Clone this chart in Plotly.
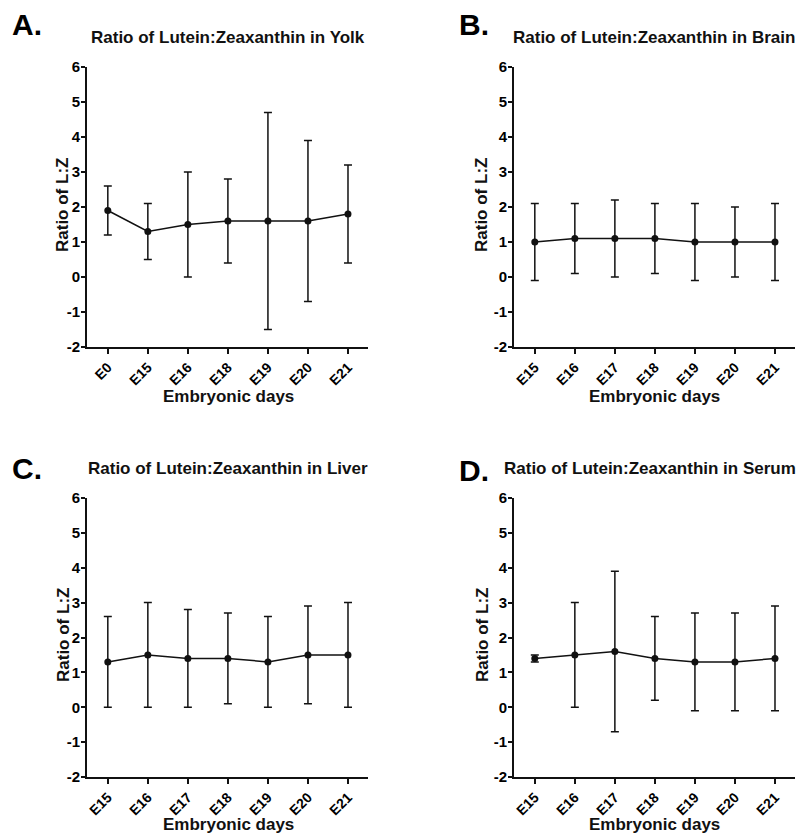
import plotly.graph_objects as go

W, H = 803, 836

yolk_days = ["E0", "E15", "E16", "E18", "E19", "E20", "E21"]
yolk_mean = [1.9, 1.3, 1.5, 1.6, 1.6, 1.6, 1.8]
yolk_low = [1.2, 0.5, 0.0, 0.4, -1.5, -0.7, 0.4]
yolk_high = [2.6, 2.1, 3.0, 2.8, 4.7, 3.9, 3.2]

brain_days = ["E15", "E16", "E17", "E18", "E19", "E20", "E21"]
brain_mean = [1.0, 1.1, 1.1, 1.1, 1.0, 1.0, 1.0]
brain_low = [-0.1, 0.1, 0.0, 0.1, -0.1, 0.0, -0.1]
brain_high = [2.1, 2.1, 2.2, 2.1, 2.1, 2.0, 2.1]

liver_days = ["E15", "E16", "E17", "E18", "E19", "E20", "E21"]
liver_mean = [1.3, 1.5, 1.4, 1.4, 1.3, 1.5, 1.5]
liver_low = [0.0, 0.0, 0.0, 0.1, 0.0, 0.1, 0.0]
liver_high = [2.6, 3.0, 2.8, 2.7, 2.6, 2.9, 3.0]

serum_days = ["E15", "E16", "E17", "E18", "E19", "E20", "E21"]
serum_mean = [1.4, 1.5, 1.6, 1.4, 1.3, 1.3, 1.4]
serum_low = [1.3, 0.0, -0.7, 0.2, -0.1, -0.1, -0.1]
serum_high = [1.5, 3.0, 3.9, 2.6, 2.7, 2.7, 2.9]

titles = ["Ratio of Lutein:Zeaxanthin in Yolk", "Ratio of Lutein:Zeaxanthin in Brain",
          "Ratio of Lutein:Zeaxanthin in Liver", "Ratio of Lutein:Zeaxanthin in Serum"]
letters = ["A.", "B.", "C.", "D."]
y_title = "Ratio of L:Z"
x_title = "Embryonic days"
y_ticks = [-2, -1, 0, 1, 2, 3, 4, 5, 6]
y_ticktext = ["-2", "-1", "0", "1", "2", "3", "4", "5", "6"]

panels = [
    (yolk_days, yolk_mean, yolk_low, yolk_high),
    (brain_days, brain_mean, brain_low, brain_high),
    (liver_days, liver_mean, liver_low, liver_high),
    (serum_days, serum_mean, serum_low, serum_high),
]

# pixel geometry of each plot area: (x0, x1, ytop, ybottom)
geom = [(87, 368, 67, 347), (514, 795, 67, 347), (87, 368, 498, 777), (514, 795, 498, 777)]
title_pos = [(228, 38), (654, 38), (228, 468), (650, 468)]
letter_pos = [(27, 25), (474, 25), (27, 469), (474, 470)]
ytitle_pos = [(63, 205), (482, 205), (63, 635), (482, 635)]
xtitle_pos = [(228, 397), (654, 397), (228, 824), (654, 824)]

INK = "#111111"
FONT = "Liberation Sans"

fig = go.Figure()
layout = dict(width=W, height=H, margin=dict(l=0, r=0, t=0, b=0, autoexpand=False),
              paper_bgcolor="white", plot_bgcolor="white", showlegend=False,
              font=dict(family=FONT, color=INK))
annotations = []

def px(x):
    return x / W

def py(y):
    return 1 - y / H

def bold(s):
    return f"<b>{s}</b>"

XTICK_SIZE = 14
YTICK_SIZE = 15

for i, (days, mean, low, high) in enumerate(panels):
    n = i + 1
    xa = "x" if n == 1 else f"x{n}"
    ya = "y" if n == 1 else f"y{n}"
    plus = [h - m for h, m in zip(high, mean)]
    minus = [m - l for m, l in zip(mean, low)]
    fig.add_trace(go.Scatter(
        x=days, y=mean, mode="lines+markers", xaxis=xa, yaxis=ya,
        line=dict(color=INK, width=1.5),
        marker=dict(color=INK, size=7, symbol="circle"),
        error_y=dict(type="data", symmetric=False, array=plus, arrayminus=minus,
                     color=INK, thickness=1.5, width=4),
    ))
    x0, x1, yt, yb = geom[i]
    xkey = "xaxis" if n == 1 else f"xaxis{n}"
    ykey = "yaxis" if n == 1 else f"yaxis{n}"
    layout[xkey] = dict(domain=[px(x0), px(x1)], anchor=ya, type="category",
                        categoryorder="array", categoryarray=days, automargin=False,
                        tickmode="array", tickvals=days, ticktext=[bold(d) for d in days],
                        range=[-0.52, 6.5], showgrid=False, zeroline=False,
                        showline=True, linecolor=INK, linewidth=1.6,
                        ticks="outside", ticklen=5, tickwidth=1.5, tickcolor=INK,
                        tickangle=-45,
                        tickfont=dict(family=FONT, size=XTICK_SIZE, color="black", weight="bold"))
    layout[ykey] = dict(domain=[py(yb), py(yt)], anchor=xa, type="linear", range=[-2, 6],
                        automargin=False,
                        tickmode="array", tickvals=y_ticks,
                        ticktext=[bold(t) for t in y_ticktext],
                        showgrid=False, zeroline=False,
                        showline=True, linecolor=INK, linewidth=1.6,
                        ticks="outside", ticklen=4, tickwidth=1.5, tickcolor=INK,
                        ticklabelstandoff=-2,
                        tickfont=dict(family=FONT, size=YTICK_SIZE, color="black", weight="bold"))
    tx, ty = title_pos[i]
    annotations.append(dict(text=bold(titles[i]), x=px(tx), y=py(ty), xref="paper", yref="paper",
                            xanchor="center", yanchor="middle", showarrow=False,
                            font=dict(family=FONT, size=17, color=INK)))
    lx, ly = letter_pos[i]
    annotations.append(dict(text=bold(letters[i]), x=px(lx), y=py(ly), xref="paper", yref="paper",
                            xanchor="center", yanchor="middle", showarrow=False,
                            font=dict(family=FONT, size=30, color="black")))
    yx, yy = ytitle_pos[i]
    annotations.append(dict(text=bold(y_title), x=px(yx), y=py(yy), xref="paper", yref="paper",
                            xanchor="center", yanchor="middle", showarrow=False, textangle=-90,
                            font=dict(family=FONT, size=17, color=INK)))
    xx, xy = xtitle_pos[i]
    annotations.append(dict(text=bold(x_title), x=px(xx), y=py(xy), xref="paper", yref="paper",
                            xanchor="center", yanchor="middle", showarrow=False,
                            font=dict(family=FONT, size=17, color=INK)))

layout["annotations"] = annotations
fig.update_layout(**layout)
fig.write_html("out.html")
